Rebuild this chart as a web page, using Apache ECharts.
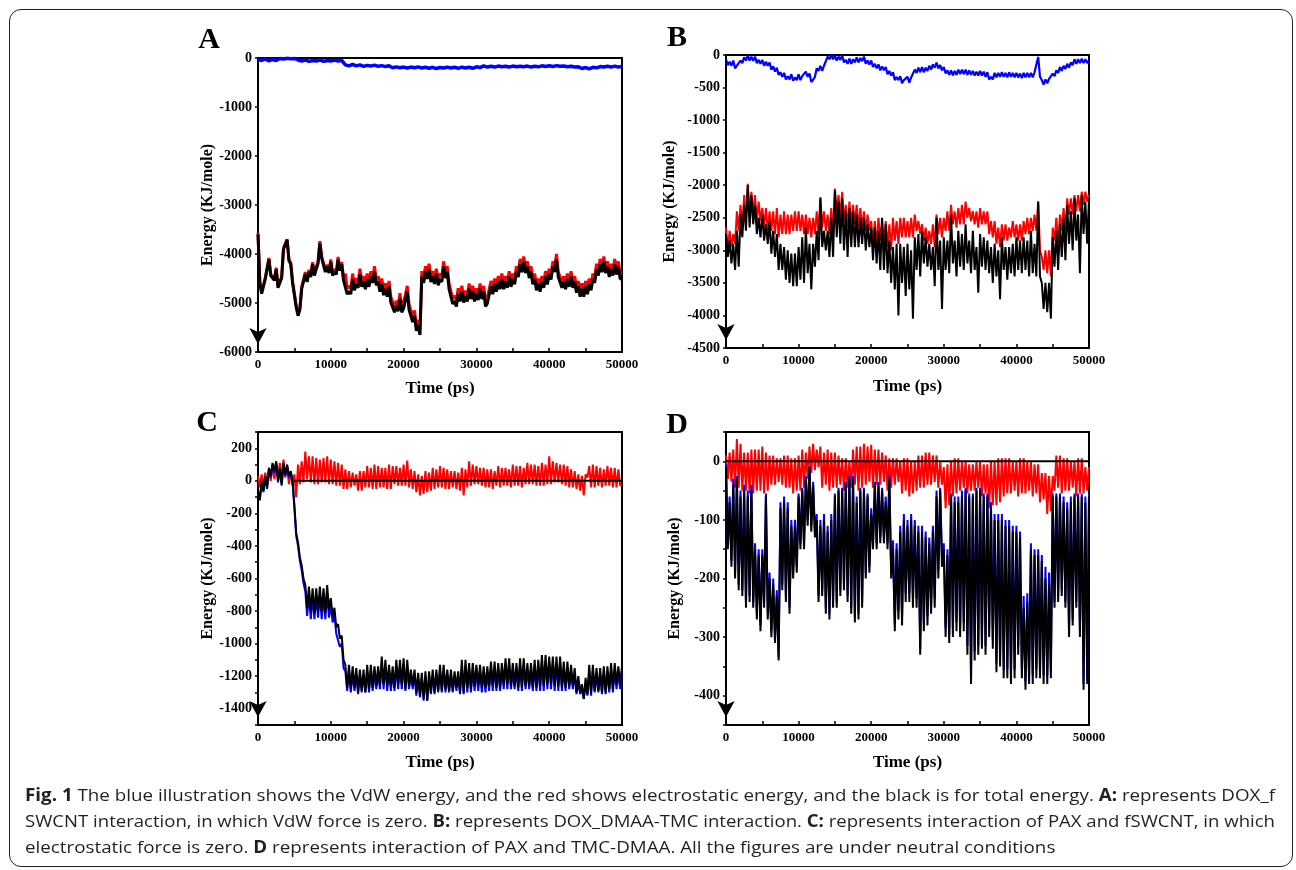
<!DOCTYPE html>
<html><head><meta charset="utf-8">
<script src="https://cdn.jsdelivr.net/npm/echarts/dist/echarts.min.js"></script>
<style>
html,body{margin:0;padding:0;background:#fff;}
#wrap{position:relative;width:1296px;height:870px;overflow:hidden;background:#fff;}
#chart{position:absolute;left:0;top:0;width:1296px;height:870px;}
#frame{position:absolute;left:9px;top:9px;width:1284px;height:858px;border:1.5px solid #222;border-radius:12px;box-sizing:border-box;pointer-events:none;}
.cap{position:absolute;left:25px;font-family:'Open Sans';font-size:17px;color:#231f20;white-space:nowrap;transform-origin:0 50%;line-height:26px;height:26px;}
.cap b{font-weight:700;}
</style></head>
<body><div id="wrap"><div id="chart"></div><div id="frame"></div>
<div class="cap" id="c1" style="top:782px"><b>Fig. 1</b> The blue illustration shows the VdW energy, and the red shows electrostatic energy, and the black is for total energy. <b>A:</b> represents DOX_f</div>
<div class="cap" id="c2" style="top:808px">SWCNT interaction, in which VdW force is zero. <b>B:</b> represents DOX_DMAA-TMC interaction. <b>C:</b> represents interaction of PAX and fSWCNT, in which</div>
<div class="cap" id="c3" style="top:834px">electrostatic force is zero. <b>D</b> represents interaction of PAX and TMC-DMAA. All the figures are under neutral conditions</div>
</div>
<script>
const TIME = [
0,250,500,750,1000,1250,1500,1750,2000,2250,2500,2750,3000,3250,3500,3750,4000,4250,4500,4750,
5000,5250,5500,5750,6000,6250,6500,6750,7000,7250,7500,7750,8000,8250,8500,8750,9000,9250,9500,9750,
10000,10250,10500,10750,11000,11250,11500,11750,12000,12250,12500,12750,13000,13250,13500,13750,14000,14250,14500,14750,
15000,15250,15500,15750,16000,16250,16500,16750,17000,17250,17500,17750,18000,18250,18500,18750,19000,19250,19500,19750,
20000,20250,20500,20750,21000,21250,21500,21750,22000,22250,22500,22750,23000,23250,23500,23750,24000,24250,24500,24750,
25000,25250,25500,25750,26000,26250,26500,26750,27000,27250,27500,27750,28000,28250,28500,28750,29000,29250,29500,29750,
30000,30250,30500,30750,31000,31250,31500,31750,32000,32250,32500,32750,33000,33250,33500,33750,34000,34250,34500,34750,
35000,35250,35500,35750,36000,36250,36500,36750,37000,37250,37500,37750,38000,38250,38500,38750,39000,39250,39500,39750,
40000,40250,40500,40750,41000,41250,41500,41750,42000,42250,42500,42750,43000,43250,43500,43750,44000,44250,44500,44750,
45000,45250,45500,45750,46000,46250,46500,46750,47000,47250,47500,47750,48000,48250,48500,48750,49000,49250,49500,49750,
50000];

// ---------- Panel A ----------
const A_BLUE = [
-30,-45,-50,-35,-20,-40,-60,-40,-30,-45,-50,-30,-10,-5,-20,-10,-5,-10,-15,-5,
-10,-30,-40,-55,-60,-45,-40,-60,-70,-55,-50,-65,-60,-45,-40,-55,-70,-55,-50,-65,
-60,-45,-40,-55,-60,-45,-50,-60,-140,-155,-160,-140,-130,-150,-160,-140,-140,-160,-170,-150,
-150,-165,-165,-150,-145,-160,-170,-155,-155,-170,-175,-160,-160,-185,-200,-185,-180,-200,-200,-185,
-185,-200,-205,-190,-185,-200,-200,-185,-180,-200,-205,-190,-190,-205,-210,-195,-190,-205,-215,-195,
-195,-210,-205,-190,-185,-200,-205,-190,-190,-205,-210,-195,-185,-200,-205,-190,-190,-205,-210,-195,
-180,-195,-195,-175,-160,-175,-185,-170,-170,-185,-185,-170,-165,-180,-180,-165,-170,-185,-185,-170,
-165,-180,-180,-165,-170,-180,-180,-165,-165,-180,-185,-170,-170,-180,-180,-165,-160,-175,-175,-160,
-160,-175,-175,-160,-155,-170,-170,-155,-165,-180,-180,-165,-170,-185,-185,-170,-180,-200,-215,-200,
-195,-215,-220,-200,-190,-200,-200,-185,-175,-190,-185,-170,-170,-185,-185,-170,-165,-180,-185,-170,
-175];
const A_RED = [
-3570,-4560,-4780,-4810,-4480,-4460,-4080,-4410,-4380,-4510,-4280,-4660,-4630,-4460,-3880,-3910,-3700,-4110,-4180,-4560,
-4570,-5050,-5220,-5100,-4670,-4700,-4370,-4530,-4320,-4430,-4170,-4400,-4270,-4150,-3740,-4050,-4070,-4330,-4220,-4350,
-4110,-4390,-4310,-4370,-4060,-4290,-4160,-4490,-4400,-4710,-4650,-4710,-4400,-4630,-4500,-4580,-4300,-4560,-4450,-4610,
-4400,-4560,-4350,-4480,-4250,-4530,-4450,-4660,-4500,-4730,-4600,-4760,-4550,-4880,-4850,-5080,-4950,-5060,-4800,-5080,
-5000,-4980,-4650,-5030,-5050,-5280,-5150,-5460,-5340,-5540,-4350,-4480,-4250,-4400,-4200,-4460,-4350,-4500,-4300,-4530,
-4400,-4460,-4150,-4380,-4250,-4610,-4600,-4910,-4850,-4960,-4700,-4860,-4650,-4880,-4750,-4860,-4600,-4810,-4650,-4860,
-4700,-4830,-4600,-4810,-4650,-4960,-4900,-4910,-4550,-4710,-4500,-4660,-4450,-4610,-4400,-4610,-4450,-4580,-4350,-4560,
-4400,-4510,-4250,-4360,-4100,-4260,-4050,-4280,-4150,-4380,-4250,-4510,-4400,-4630,-4500,-4660,-4450,-4580,-4350,-4510,
-4300,-4410,-4150,-4260,-4000,-4360,-4350,-4580,-4450,-4610,-4400,-4560,-4350,-4580,-4450,-4680,-4550,-4760,-4600,-4760,
-4550,-4710,-4500,-4630,-4400,-4480,-4200,-4330,-4100,-4260,-4050,-4280,-4150,-4360,-4200,-4330,-4100,-4310,-4150,-4400,
-4390];
const A_BLACK = [
-3600,-4590,-4810,-4840,-4510,-4490,-4110,-4440,-4410,-4540,-4310,-4690,-4660,-4490,-3910,-3940,-3710,-4140,-4210,-4590,
-4610,-5090,-5260,-5140,-4710,-4740,-4410,-4570,-4360,-4470,-4210,-4440,-4310,-4190,-3780,-4090,-4110,-4370,-4260,-4390,
-4160,-4440,-4360,-4420,-4110,-4340,-4210,-4540,-4510,-4820,-4760,-4820,-4510,-4740,-4610,-4690,-4410,-4670,-4560,-4720,
-4510,-4670,-4460,-4590,-4360,-4640,-4560,-4770,-4610,-4840,-4710,-4870,-4660,-4990,-4960,-5190,-5060,-5170,-4910,-5190,
-5110,-5090,-4760,-5140,-5160,-5390,-5260,-5570,-5450,-5650,-4460,-4590,-4360,-4510,-4310,-4570,-4460,-4610,-4410,-4640,
-4510,-4570,-4260,-4490,-4360,-4720,-4710,-5020,-4960,-5070,-4810,-4970,-4760,-4990,-4860,-4970,-4710,-4920,-4760,-4970,
-4810,-4940,-4710,-4920,-4760,-5070,-5010,-5020,-4660,-4820,-4610,-4770,-4560,-4720,-4510,-4720,-4560,-4690,-4460,-4670,
-4510,-4620,-4360,-4470,-4210,-4370,-4160,-4390,-4260,-4490,-4360,-4620,-4510,-4740,-4610,-4770,-4560,-4690,-4460,-4620,
-4410,-4520,-4260,-4370,-4110,-4470,-4460,-4690,-4560,-4720,-4510,-4670,-4460,-4690,-4560,-4790,-4660,-4870,-4710,-4870,
-4660,-4820,-4610,-4740,-4510,-4590,-4310,-4440,-4210,-4370,-4160,-4390,-4260,-4470,-4310,-4440,-4210,-4420,-4260,-4510,
-4500];

// ---------- Panel B ----------
const B_BLUE = [
-65,-155,-105,-165,-85,-205,-165,-195,-85,-125,-35,-85,-5,-85,-25,-90,-25,-125,-75,-135,
-75,-165,-105,-165,-115,-225,-175,-255,-195,-305,-265,-335,-275,-375,-325,-375,-295,-395,-345,-385,
-295,-385,-325,-355,-255,-335,-285,-415,-380,-335,-205,-245,-165,-245,-165,-155,-25,-65,0,-65,
-5,-85,-25,-75,-5,-115,-75,-135,-55,-135,-65,-115,-35,-115,-45,-95,-25,-135,-85,-145,
-85,-185,-135,-205,-145,-235,-175,-235,-185,-295,-245,-315,-265,-385,-340,-385,-325,-435,-385,-415,
-335,-425,-345,-355,-225,-275,-195,-265,-185,-265,-195,-245,-165,-225,-145,-195,-115,-205,-155,-235,
-185,-285,-235,-305,-235,-315,-245,-305,-225,-295,-225,-295,-225,-305,-235,-305,-245,-315,-255,-315,
-245,-315,-255,-335,-265,-375,-335,-375,-275,-345,-275,-335,-265,-335,-275,-345,-265,-335,-275,-345,
-275,-345,-285,-355,-275,-345,-275,-345,-275,-345,-265,-235,-30,-335,-385,-455,-375,-435,-365,-395,
-285,-325,-235,-275,-185,-245,-165,-215,-135,-195,-115,-155,-65,-135,-65,-125,-55,-125,-65,-125,
-80];
const B_RED = [
-2650,-3000,-2700,-2950,-2750,-2900,-2400,-2700,-2300,-2650,-2150,-2500,-1980,-2450,-2100,-2450,-2150,-2550,-2250,-2550,
-2350,-2650,-2350,-2700,-2400,-2700,-2400,-2750,-2350,-2800,-2450,-2750,-2400,-2750,-2450,-2750,-2450,-2700,-2400,-2700,
-2400,-2700,-2450,-2750,-2450,-2750,-2500,-2800,-2500,-2750,-2400,-2750,-2180,-2650,-2400,-2700,-2450,-2750,-2350,-2750,
-2050,-2400,-2150,-2500,-2100,-2550,-2300,-2650,-2250,-2600,-2300,-2600,-2300,-2650,-2350,-2650,-2400,-2700,-2450,-2700,
-2550,-2900,-2550,-2950,-2500,-2850,-2550,-2900,-2550,-2950,-2600,-3000,-2500,-2850,-2550,-2900,-2500,-2800,-2500,-2800,
-2550,-2800,-2500,-2800,-2450,-2700,-2550,-2750,-2600,-2850,-2650,-2900,-2700,-2900,-2600,-2950,-2450,-2750,-2500,-2800,
-2500,-2700,-2400,-2700,-2300,-2600,-2400,-2650,-2350,-2600,-2300,-2600,-2250,-2500,-2350,-2550,-2400,-2600,-2400,-2650,
-2350,-2600,-2400,-2600,-2400,-2750,-2550,-2800,-2550,-2900,-2650,-2950,-2600,-2850,-2600,-2850,-2650,-2800,-2550,-2800,
-2600,-2850,-2600,-2850,-2550,-2750,-2500,-2750,-2500,-2700,-2450,-2700,-2250,-3000,-3100,-3300,-3000,-3350,-3000,-3400,
-2650,-2850,-2500,-2900,-2450,-2700,-2350,-2700,-2200,-2450,-2200,-2450,-2150,-2400,-2150,-2400,-2100,-2300,-2100,-2250,
-2150];
const B_BLACK = [
-2750,-3100,-2850,-3200,-2900,-3300,-2700,-3250,-2450,-2800,-2300,-2700,-2000,-2650,-2150,-2600,-2300,-2750,-2500,-2800,
-2450,-2850,-2600,-2900,-2550,-3050,-2700,-3100,-2750,-3300,-2900,-3300,-2950,-3450,-3000,-3500,-3050,-3550,-3050,-3550,
-2950,-3450,-2800,-3500,-2650,-3350,-2900,-3600,-2900,-3250,-2700,-3150,-2200,-2950,-2700,-3000,-2700,-3100,-2500,-3100,
-2080,-2800,-2250,-2900,-2200,-3000,-2400,-3100,-2350,-2950,-2400,-2950,-2450,-2950,-2500,-2900,-2500,-3000,-2600,-2950,
-2650,-3150,-2650,-3200,-2700,-3300,-2500,-3300,-2600,-3350,-2850,-3500,-2950,-3600,-2900,-4000,-2900,-3500,-2950,-3700,
-2900,-3600,-3000,-4050,-2800,-3300,-2750,-3400,-2700,-3200,-2800,-3250,-2900,-3300,-2950,-3550,-2500,-3300,-2850,-3900,
-2800,-3300,-2850,-3350,-2450,-3200,-2850,-3400,-2700,-3250,-2750,-3300,-2600,-3200,-2850,-3350,-2700,-3300,-2950,-3650,
-2750,-3250,-2800,-3300,-2850,-3350,-2950,-3500,-2900,-3400,-3000,-3750,-2800,-3300,-2950,-3450,-2950,-3350,-2900,-3400,
-2800,-3300,-2850,-3350,-2800,-3300,-2850,-3400,-2700,-3350,-2900,-3400,-2250,-3400,-3500,-3900,-3500,-3950,-3500,-4050,
-2800,-3250,-2700,-3300,-2600,-3100,-2500,-3150,-2300,-2900,-2400,-3000,-2200,-2850,-2450,-3350,-2150,-2750,-2250,-2900,
-2200];

// ---------- Panel C ----------
const C_RED = [
30,-40,40,-30,50,-20,60,0,90,10,100,20,110,10,130,20,90,-20,60,-30,
40,-100,100,-20,120,-10,180,10,150,-10,150,-20,140,-20,130,-10,140,-10,150,-20,
130,-20,120,-30,110,-30,100,-50,70,-50,60,-40,50,-30,40,-60,60,-60,60,-40,
90,-40,80,-50,100,-50,90,-40,80,-40,80,-50,100,-50,90,-20,90,-30,80,-30,
100,-30,125,-40,70,-50,60,-70,40,-90,30,-80,60,-70,50,-60,80,-50,70,-40,
90,-40,80,-50,70,-50,60,-40,60,-50,50,-60,80,-90,70,-40,120,-30,100,-20,
90,-20,80,-30,80,-40,70,-40,70,-50,60,-30,90,-40,80,-30,80,-30,70,-40,
100,-30,90,-30,90,-40,80,-20,110,-20,100,-20,100,-30,90,-30,110,-30,100,-20,
150,-20,120,-10,110,-10,100,-20,100,-30,90,-40,70,-40,60,-50,40,-60,30,-90,
40,20,90,-40,100,-40,90,-30,80,-40,70,-30,90,-30,80,-40,80,-40,70,-30,
-20];
const C_BLUE = [
-70,-110,-10,-70,20,-50,70,20,100,50,110,-10,70,-30,100,30,90,20,50,-10,
-170,-340,-400,-490,-550,-630,-680,-830,-700,-850,-710,-850,-710,-840,-700,-850,-710,-850,-690,-840,
-760,-870,-820,-940,-930,-1020,-1000,-1150,-1170,-1290,-1170,-1300,-1180,-1290,-1190,-1310,-1190,-1300,-1190,-1300,
-1170,-1300,-1170,-1290,-1180,-1280,-1180,-1280,-1120,-1280,-1140,-1290,-1170,-1290,-1180,-1290,-1140,-1280,-1140,-1280,
-1130,-1290,-1140,-1280,-1190,-1280,-1190,-1320,-1210,-1330,-1210,-1350,-1200,-1350,-1200,-1310,-1190,-1310,-1190,-1300,
-1170,-1300,-1170,-1300,-1190,-1300,-1190,-1300,-1200,-1290,-1200,-1310,-1140,-1310,-1140,-1300,-1160,-1300,-1160,-1290,
-1170,-1290,-1170,-1300,-1180,-1300,-1180,-1290,-1150,-1290,-1150,-1290,-1160,-1290,-1160,-1280,-1130,-1280,-1130,-1280,
-1160,-1280,-1160,-1290,-1130,-1290,-1130,-1280,-1160,-1280,-1160,-1290,-1140,-1290,-1140,-1290,-1110,-1290,-1110,-1280,
-1120,-1280,-1120,-1290,-1120,-1290,-1120,-1290,-1150,-1290,-1150,-1280,-1170,-1280,-1190,-1310,-1240,-1310,-1280,-1340,
-1250,-1320,-1170,-1320,-1170,-1300,-1190,-1300,-1190,-1310,-1180,-1310,-1180,-1300,-1160,-1300,-1160,-1280,-1180,-1280,
-1180];
const C_BLACK = [
-60,-120,0,-60,30,-40,80,30,110,60,120,0,80,-20,110,40,100,30,60,0,
-150,-320,-380,-470,-520,-600,-640,-780,-650,-800,-660,-810,-660,-800,-650,-800,-660,-810,-640,-790,
-720,-830,-780,-900,-880,-970,-950,-1100,-1130,-1270,-1130,-1280,-1140,-1270,-1150,-1300,-1160,-1290,-1160,-1300,
-1130,-1280,-1130,-1270,-1140,-1260,-1140,-1260,-1080,-1250,-1100,-1260,-1130,-1260,-1140,-1270,-1100,-1250,-1100,-1250,
-1090,-1280,-1100,-1260,-1160,-1260,-1160,-1300,-1180,-1320,-1180,-1340,-1170,-1350,-1170,-1300,-1160,-1300,-1160,-1290,
-1130,-1290,-1130,-1280,-1160,-1290,-1160,-1290,-1170,-1270,-1170,-1300,-1100,-1300,-1100,-1270,-1120,-1280,-1120,-1260,
-1130,-1260,-1130,-1270,-1140,-1270,-1140,-1260,-1110,-1260,-1110,-1270,-1120,-1270,-1120,-1250,-1090,-1250,-1090,-1260,
-1120,-1260,-1120,-1270,-1090,-1270,-1090,-1260,-1120,-1260,-1120,-1270,-1100,-1270,-1100,-1260,-1070,-1260,-1070,-1250,
-1080,-1250,-1080,-1260,-1080,-1260,-1080,-1270,-1110,-1270,-1110,-1260,-1130,-1260,-1150,-1300,-1200,-1300,-1250,-1340,
-1210,-1310,-1130,-1300,-1130,-1290,-1150,-1290,-1150,-1300,-1140,-1300,-1140,-1280,-1120,-1280,-1120,-1250,-1140,-1250,
-1140];
const C_ZERO = [[5000,0],[50000,0]];

// ---------- Panel D ----------
const D_RED = [
10,-30,15,-35,20,-45,38,-45,30,-50,15,-50,15,-55,20,-55,20,-50,20,-50,
25,-55,15,-50,10,-40,10,-40,5,-35,5,-40,10,-45,10,-45,5,-55,5,-50,
10,-50,20,-45,15,-30,25,-20,30,-15,20,-10,25,-45,15,-40,20,-50,15,-45,
15,-45,10,-40,5,-50,5,-45,0,-45,20,-40,25,-50,25,-45,30,-40,25,-35,
28,-45,20,-40,20,-40,15,-35,10,-50,5,-45,5,-40,5,-35,0,-55,5,-50,
5,-60,0,-55,0,-50,10,-45,10,-45,15,-40,15,-40,10,-35,10,-45,0,-40,
-10,-80,-5,-75,0,-60,5,-55,5,-50,0,-45,0,-55,-5,-50,-5,-50,0,-45,
0,-60,-5,-55,-5,-80,0,-75,0,-75,5,-70,5,-60,5,-55,5,-55,0,-50,
0,-60,5,-55,5,-55,0,-50,0,-60,-5,-55,-5,-70,-20,-65,-20,-90,-25,-85,
-25,-50,10,-45,10,-55,5,-50,5,-50,0,-45,0,-60,5,-55,5,-55,-10,-50,
-10];
const D_BLUE = [
-5,-140,-60,-170,-30,-190,-25,-210,-50,-220,-40,-240,-50,-230,-40,-240,-140,-260,-150,-280,
-150,-240,-55,-260,-190,-290,-200,-300,-220,-335,-70,-210,-60,-230,-70,-250,-100,-190,-100,-180,
-55,-140,-45,-140,-25,-100,-8,-110,-35,-120,-90,-230,-100,-220,-90,-250,-110,-260,-90,-240,
-55,-240,-45,-220,-45,-210,-35,-230,-25,-250,-25,-265,-60,-260,-45,-240,-45,-190,-55,-180,
-80,-140,-35,-140,-35,-130,-45,-130,-60,-140,-25,-190,-135,-275,-140,-255,-110,-265,-90,-225,
-100,-225,-90,-235,-100,-235,-110,-320,-110,-275,-120,-265,-130,-245,-110,-235,-50,-185,-45,-165,
-140,-285,-150,-295,-55,-285,-60,-275,-60,-285,-50,-275,-45,-315,-55,-370,-55,-325,-45,-315,
-45,-305,-55,-315,-55,-285,-70,-305,-90,-345,-90,-335,-90,-355,-100,-355,-100,-365,-110,-355,
-110,-315,-120,-355,-230,-375,-225,-365,-140,-365,-150,-355,-150,-355,-160,-365,-180,-365,-190,-355,
-55,-240,-55,-230,-55,-220,-60,-240,-70,-290,-60,-270,-55,-240,-55,-290,-55,-380,-60,-370,
-55];
const D_BLACK = [
-10,-150,-70,-180,-40,-200,-30,-220,-60,-230,-50,-250,-60,-240,-50,-250,-150,-270,-160,-290,
-160,-250,-60,-270,-200,-300,-210,-310,-230,-340,-80,-220,-70,-240,-80,-260,-110,-200,-110,-190,
-60,-150,-50,-150,-30,-110,-10,-120,-40,-130,-100,-240,-110,-230,-100,-260,-120,-270,-100,-250,
-60,-250,-50,-230,-50,-220,-40,-240,-30,-260,-30,-275,-70,-270,-50,-250,-50,-200,-60,-190,
-90,-150,-40,-150,-40,-140,-50,-140,-70,-150,-30,-200,-150,-290,-150,-270,-120,-280,-100,-240,
-110,-240,-100,-250,-110,-250,-120,-330,-120,-290,-130,-280,-140,-260,-120,-250,-60,-200,-50,-180,
-150,-300,-160,-310,-60,-300,-70,-290,-70,-300,-60,-290,-50,-330,-60,-380,-60,-340,-50,-330,
-50,-320,-60,-330,-60,-300,-80,-320,-100,-360,-100,-350,-100,-370,-110,-370,-110,-380,-120,-370,
-120,-330,-130,-370,-250,-390,-240,-380,-150,-380,-160,-370,-160,-370,-170,-380,-200,-380,-210,-370,
-60,-250,-60,-240,-60,-230,-70,-250,-80,-300,-70,-280,-60,-250,-60,-300,-60,-390,-70,-380,
-60];
const D_ZERO = [[0,0],[50000,0]];

const SERIF = '"Liberation Serif","Times New Roman",serif';
const BLUE = '#0000ff', RED = '#ff0000', BLACK = '#000000';

const grids = [
  {left:258, top:58, width:364, height:294},
  {left:726, top:55, width:363, height:293},
  {left:258, top:432, width:364, height:293},
  {left:726, top:432, width:363, height:293}
].map(g => Object.assign({show:true, borderColor:'#000', borderWidth:2, backgroundColor:'transparent', containLabel:false}, g));

const xGap = [28, 30, 29, 29];
const yGap = [41, 48, 42, 43];
const yCfg = [
  {min:-6000, max:0, interval:1000, fmt:null},
  {min:-4500, max:0, interval:500, fmt:null},
  {min:-1500, max:300, interval:100, fmt:v => (v % 200 === 0 && v >= -1400 && v <= 200) ? String(v) : ''},
  {min:-450, max:50, interval:50, fmt:v => (v % 100 === 0 && v >= -400 && v <= 0) ? String(v) : ''}
];

const xAxes = grids.map((g,i) => ({
  gridIndex:i, type:'value', min:0, max:50000, interval:10000,
  name:'Time (ps)', nameLocation:'middle', nameGap:xGap[i],
  nameTextStyle:{fontFamily:SERIF, fontWeight:'bold', fontSize:17, color:'#000'},
  axisLine:{show:true, onZero:false, lineStyle:{color:'#000', width:2}},
  axisTick:{show:true, inside:true, length:4, lineStyle:{color:'#000', width:1.5}},
  minorTick:{show:true, splitNumber:2, length:4, lineStyle:{color:'#000', width:1.5}},
  axisLabel:{fontFamily:SERIF, fontWeight:'bold', fontSize:13, color:'#000', margin:6, formatter: v => String(v)},
  splitLine:{show:false}
}));
const yAxes = grids.map((g,i) => ({
  gridIndex:i, type:'value', min:yCfg[i].min, max:yCfg[i].max, interval:yCfg[i].interval,
  name:'Energy (KJ/mole)', nameLocation:'middle', nameGap:yGap[i],
  nameTextStyle:{fontFamily:SERIF, fontWeight:'bold', fontSize:16, color:'#000'},
  axisLine:{show:true, onZero:false, symbol:['arrow','none'], symbolSize:[13,16], symbolOffset:[8,0], lineStyle:{color:'#000', width:2}},
  axisTick:{show:true, inside:false, length:3, lineStyle:{color:'#000', width:1.5}},
  axisLabel:{fontFamily:SERIF, fontWeight:'bold', fontSize:14, color:'#000', margin:6,
    formatter: yCfg[i].fmt ? yCfg[i].fmt : (v => String(v))},
  splitLine:{show:false}
}));

function ln(gi, arr, color, width) {
  return {type:'line', xAxisIndex:gi, yAxisIndex:gi, data: TIME.map((t,k) => [t, arr[k]]),
    symbol:'none', showSymbol:false, sampling:null, lineStyle:{color:color, width:width}, itemStyle:{color:color},
    emphasis:{disabled:true}, silent:true, animation:false};
}
function zero(gi, pts) {
  return {type:'line', xAxisIndex:gi, yAxisIndex:gi, data:pts, symbol:'none', showSymbol:false,
    lineStyle:{color:'#000', width:2}, silent:true, animation:false};
}

const series = [
  ln(0, A_BLUE, BLUE, 3.5), ln(0, A_RED, RED, 3), ln(0, A_BLACK, BLACK, 3),
  ln(1, B_BLUE, BLUE, 2.2), ln(1, B_RED, RED, 2), ln(1, B_BLACK, BLACK, 2),
  ln(2, C_RED, RED, 2), ln(2, C_BLUE, BLUE, 2), ln(2, C_BLACK, BLACK, 2), zero(2, C_ZERO),
  ln(3, D_RED, RED, 2), ln(3, D_BLUE, BLUE, 2), ln(3, D_BLACK, BLACK, 2), zero(3, D_ZERO)
];

const letters = [['A',209,40],['B',677,38],['C',207,423],['D',677,425]];
const graphic = letters.map(l => ({type:'text', x:l[1], y:l[2], silent:true,
  style:{text:l[0], font:'bold 30px ' + SERIF, fill:'#000', textAlign:'center', textVerticalAlign:'middle', align:'center', verticalAlign:'middle'}}));

const chart = echarts.init(document.getElementById('chart'), null, {renderer:'canvas'});
chart.setOption({animation:false, grid:grids, xAxis:xAxes, yAxis:yAxes, series:series, graphic:graphic});

// caption: lines 1 and 2 fill the text block width; line 3 keeps the condensing of line 1
const c1 = document.getElementById('c1');
const c2 = document.getElementById('c2');
const s1 = 1250 / c1.getBoundingClientRect().width;
const s2 = 1250 / c2.getBoundingClientRect().width;
c1.style.transform = 'scaleX(' + s1 + ')';
c2.style.transform = 'scaleX(' + s2 + ')';
document.getElementById('c3').style.transform = 'scaleX(' + s1 + ')';
</script>
</body></html>
